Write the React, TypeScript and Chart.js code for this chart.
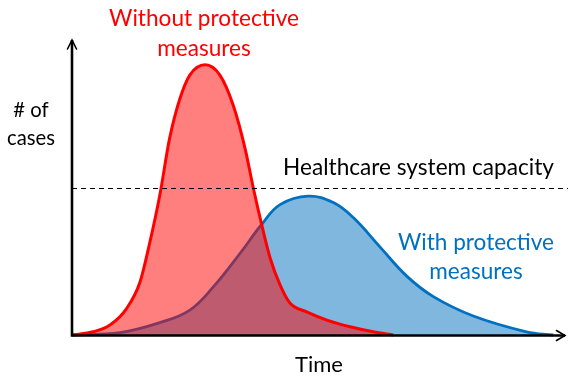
import React, { useEffect, useRef } from "react";
import { Chart, registerables } from "chart.js";

Chart.register(...registerables);

// Conceptual "flatten the curve" data (time units 0..100, cases 0..100)
const timeWithout = [0, 4.3, 7.7, 11.1, 13.8, 15.8, 17.8, 19.8, 21.9, 23.9, 27.0, 30.0, 32.7, 35.1, 36.8, 38.5, 40.2, 42.2, 44.2, 47.6, 51.7, 56.4, 61.1, 65.2];
const casesWithout = [0, 1.1, 3.4, 9.1, 18.1, 31.7, 47.6, 67.1, 80.7, 88.7, 92.2, 88.7, 78.4, 63.7, 50.0, 37.5, 26.2, 17.1, 10.9, 7.9, 5.1, 2.8, 1.1, 0];
const timeWith = [0, 9.7, 17.8, 23.9, 28.7, 34.1, 38.5, 42.2, 47.9, 53.0, 57.1, 62.5, 67.9, 73.3, 81.4, 92.2, 97.6];
const casesWith = [0, 0.8, 4.2, 8.5, 16.5, 27.9, 37.8, 44.5, 47.4, 45.2, 40.0, 30.0, 20.1, 13.1, 6.5, 1.1, 0];
const capacityTime = [0, 100.6];
const capacityLevel = 50;

const labelWithout = ["Without protective", "measures"];
const labelWith = ["With protective", "measures"];
const labelCapacity = ["Healthcare system capacity"];
const labelYAxis = ["# of", "cases"];
const labelXAxis = ["Time"];

const FONT = 'Lato, "Open Sans", sans-serif';

type Block = { lines: string[]; color: string; cx: number; baselines: number[]; refWidth: number; refLine: number };

const blocks: Block[] = [
  { lines: labelWithout, color: "#FF0000", cx: 204, baselines: [26, 56], refWidth: 190, refLine: 0 },
  { lines: labelWith, color: "#0070C0", cx: 476, baselines: [250, 279], refWidth: 156, refLine: 0 },
  { lines: labelCapacity, color: "#000000", cx: 418.5, baselines: [175], refWidth: 271, refLine: 0 },
  { lines: labelYAxis, color: "#000000", cx: 31, baselines: [117, 145], refWidth: 48, refLine: 1 },
  { lines: labelXAxis, color: "#000000", cx: 319, baselines: [372], refWidth: 48, refLine: 0 },
];

const decorPlugin = {
  id: "decor",
  afterDatasetsDraw(chart: any) {
    const { ctx, chartArea } = chart;
    const { left, right, top, bottom } = chartArea;
    ctx.save();
    ctx.strokeStyle = "#000";
    ctx.lineWidth = 2.6;
    ctx.lineCap = "butt";
    ctx.lineJoin = "miter";
    ctx.beginPath();
    ctx.moveTo(left, top - 2);
    ctx.lineTo(left, bottom + 0.5);
    ctx.lineTo(right, bottom + 0.5);
    ctx.stroke();
    ctx.lineWidth = 1.6;
    ctx.lineCap = "round";
    ctx.beginPath();
    ctx.moveTo(left - 4.5, top + 7);
    ctx.lineTo(left, top - 2);
    ctx.lineTo(left + 4.5, top + 7);
    ctx.moveTo(right - 8.5, bottom - 4.5);
    ctx.lineTo(right, bottom + 0.5);
    ctx.lineTo(right - 8.5, bottom + 5.5);
    ctx.stroke();

    ctx.textAlign = "center";
    ctx.textBaseline = "alphabetic";
    for (const b of blocks) {
      ctx.font = `100px ${FONT}`;
      const w = ctx.measureText(b.lines[b.refLine]).width;
      const size = (100 * b.refWidth) / w;
      ctx.font = `${size}px ${FONT}`;
      ctx.fillStyle = b.color;
      b.lines.forEach((line, i) => ctx.fillText(line, b.cx, b.baselines[i]));
    }
    ctx.restore();
  },
};

export default function App() {
  const ref = useRef<HTMLCanvasElement>(null);
  useEffect(() => {
    if (!ref.current) return;
    const chart = new Chart(ref.current, {
      type: "line",
      data: {
        datasets: [
          {
            label: "Healthcare system capacity",
            data: capacityTime.map((t) => ({ x: t, y: capacityLevel })),
            borderColor: "#000",
            borderWidth: 1,
            borderDash: [5, 4],
            pointRadius: 0,
            fill: false,
            clip: false as any,
          },
          {
            label: "Without protective measures",
            data: timeWithout.map((t, i) => ({ x: t, y: casesWithout[i] })),
            borderColor: "#FF0000",
            backgroundColor: "rgba(255,0,0,0.5)",
            borderWidth: 3,
            pointRadius: 0,
            fill: "origin",
            cubicInterpolationMode: "monotone",
            clip: false as any,
          },
          {
            label: "With protective measures",
            data: timeWith.map((t, i) => ({ x: t, y: casesWith[i] })),
            borderColor: "#0070C0",
            backgroundColor: "rgba(0,112,192,0.5)",
            borderWidth: 2.8,
            pointRadius: 0,
            fill: "origin",
            tension: 0.4,
            clip: false as any,
          },
        ],
      },
      options: {
        animation: false,
        responsive: false,
        maintainAspectRatio: false,
        layout: { padding: { left: 72, right: 14, top: 42, bottom: 42 } },
        plugins: { legend: { display: false }, tooltip: { enabled: false } },
        scales: {
          x: { type: "linear", min: 0, max: 100, display: false },
          y: { type: "linear", min: 0, max: 100, display: false },
        },
      },
      plugins: [decorPlugin],
    });
    return () => chart.destroy();
  }, []);
  return (
    <div style={{ position: "fixed", left: 0, top: 0, width: 579, height: 377, background: "#fff" }}>
      <canvas ref={ref} width={579} height={377} style={{ display: "block" }} />
    </div>
  );
}
